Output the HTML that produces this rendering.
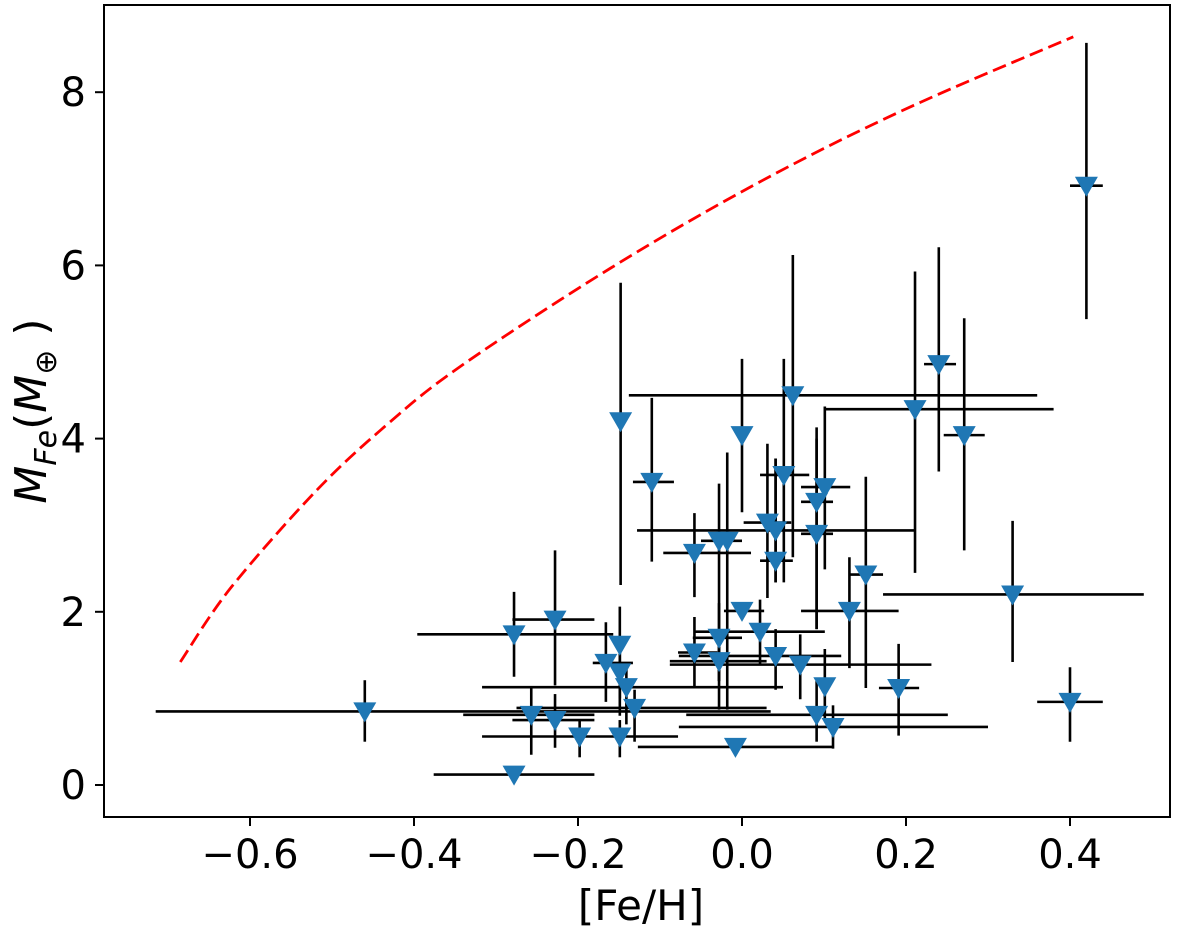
<!DOCTYPE html>
<html><head><meta charset="utf-8"><style>
html,body{margin:0;padding:0;background:#fff;}
svg text{font-family:"DejaVu Sans","Liberation Sans",sans-serif;fill:#000;}
</style></head><body>
<svg id="chart" width="1200" height="930" viewBox="0 0 1200 930" xmlns="http://www.w3.org/2000/svg">
<rect x="0" y="0" width="1200" height="930" fill="#fff"/>
<g id="curve"></g>
<g id="errs"></g>
<g id="marks"></g>
<rect x="104" y="5" width="1066" height="812" fill="none" stroke="#000" stroke-width="2"/>
<g id="axes"></g>
<text x="641" y="920" font-size="42" text-anchor="middle">[Fe/H]</text>
<text transform="translate(46,411) rotate(-90)" font-size="44" text-anchor="middle"><tspan font-style="italic">M</tspan><tspan font-size="30" font-style="italic" dy="10">Fe</tspan><tspan dy="-10">(</tspan><tspan font-style="italic">M</tspan><tspan font-size="30" dy="10">⊕</tspan><tspan dy="-10"> )</tspan></text>
</svg>
<script>
const feh = [0.42,-0.46,-0.148,-0.11,-0.058,-0.278,-0.228,-0.166,-0.149,-0.149,-0.141,-0.131,-0.257,-0.228,-0.198,-0.149,-0.278,-0.058,0.062,0.24,0.211,0.271,0.0,0.051,0.101,0.091,0.031,0.041,0.091,-0.028,-0.018,0.041,0.151,0.33,0.131,0.0,0.022,-0.028,0.041,-0.028,0.071,0.101,0.191,0.091,0.111,-0.008,0.4];
const mfe = [6.92,0.85,4.2,3.5,2.68,1.74,1.91,1.41,1.62,1.3,1.13,0.89,0.81,0.75,0.56,0.56,0.12,1.53,4.5,4.86,4.34,4.04,4.04,3.58,3.44,3.27,3.03,2.94,2.9,2.82,2.82,2.59,2.43,2.2,2.01,2.01,1.77,1.7,1.49,1.43,1.39,1.14,1.12,0.81,0.67,0.44,0.96];
const xLo = [0.4,-0.715,-0.148,-0.133,-0.096,-0.396,-0.28,-0.182,-0.149,-0.149,-0.317,-0.275,-0.34,-0.28,-0.317,-0.149,-0.376,-0.078,-0.138,0.222,0.101,0.246,0.0,0.022,0.072,0.072,0.002,-0.128,0.072,-0.05,-0.018,0.022,0.132,0.172,0.072,-0.022,-0.058,-0.06,-0.077,-0.088,-0.088,0.101,0.167,-0.068,-0.077,-0.127,0.36];
const xHi = [0.44,0.035,-0.148,-0.083,0.011,-0.157,-0.18,-0.133,-0.149,-0.149,0.05,0.03,-0.18,-0.18,-0.078,-0.149,-0.18,-0.03,0.36,0.261,0.38,0.296,0.0,0.082,0.132,0.111,0.06,0.21,0.111,0.0,-0.018,0.062,0.172,0.49,0.191,0.027,0.101,0.0,0.121,0.03,0.231,0.101,0.216,0.251,0.3,0.111,0.44];
const yLo = [5.38,0.5,2.31,2.58,2.17,1.25,1.15,0.96,0.8,1.0,0.7,0.5,0.35,0.43,0.32,0.32,0.12,1.13,2.63,3.62,2.45,2.71,3.15,2.34,2.49,1.8,2.16,2.34,1.8,0.87,0.87,2.34,1.12,1.42,1.35,2.01,1.39,1.2,1.1,1.2,0.99,0.77,0.57,0.5,0.42,0.44,0.5];
const yHi = [8.57,1.21,5.8,4.47,3.14,2.23,2.71,1.88,2.06,1.6,1.4,1.1,1.13,1.05,0.75,0.75,0.12,1.94,6.12,6.21,5.93,5.39,4.92,4.92,4.37,4.13,3.94,3.77,4.0,3.48,3.84,3.77,3.56,3.05,2.63,2.01,2.14,2.1,1.8,1.8,1.74,1.57,1.63,1.2,0.92,0.44,1.36];
const curveX = [-0.685,-0.624,-0.52,-0.432,-0.341,-0.16,0.017,0.196,0.404];
const curveY = [1.42,2.27,3.39,4.17,4.85,5.97,6.94,7.79,8.64];
const xTicks = [-0.6,-0.4,-0.2,0.0,0.2,0.4];
const xTickLabels = ["\u22120.6","\u22120.4","\u22120.2","0.0","0.2","0.4"];
const yTicks = [0,2,4,6,8];
const yTickLabels = ["0","2","4","6","8"];

const NS = "http://www.w3.org/2000/svg";
function sx(v){ return 742 + 820*v; }
function sy(v){ return 785 - 86.6*v; }
function mk(tag, attrs, parent){
  const e = document.createElementNS(NS, tag);
  for (const k in attrs) e.setAttribute(k, attrs[k]);
  parent.appendChild(e);
  return e;
}
const gCurve = document.getElementById('curve');
const gErr = document.getElementById('errs');
const gMk = document.getElementById('marks');
const gAx = document.getElementById('axes');

const P = curveX.map((x,i)=>[sx(x), sy(curveY[i])]);
let d = 'M' + P[0][0].toFixed(1) + ' ' + P[0][1].toFixed(1);
for (let i=0;i<P.length-1;i++){
  const p0 = P[Math.max(0,i-1)], p1 = P[i], p2 = P[i+1], p3 = P[Math.min(P.length-1,i+2)];
  const c1 = [p1[0]+(p2[0]-p0[0])/6, p1[1]+(p2[1]-p0[1])/6];
  const c2 = [p2[0]-(p3[0]-p1[0])/6, p2[1]-(p3[1]-p1[1])/6];
  d += ` C${c1[0].toFixed(1)} ${c1[1].toFixed(1)} ${c2[0].toFixed(1)} ${c2[1].toFixed(1)} ${p2[0].toFixed(1)} ${p2[1].toFixed(1)}`;
}
const cp = mk('path', {d:d, fill:'none', stroke:'#ff0000', 'stroke-width':2.8, 'stroke-dasharray':'14,6'}, gCurve);



feh.forEach((x,i)=>{
  const h = mk('line', {x1:sx(xLo[i]), x2:sx(xHi[i]), y1:sy(mfe[i]), y2:sy(mfe[i]), stroke:'#000', 'stroke-width':2.6}, gErr);
  
  
  const v = mk('line', {x1:sx(x), x2:sx(x), y1:sy(yLo[i]), y2:sy(yHi[i]), stroke:'#000', 'stroke-width':2.6}, gErr);
  
  
  const cx = sx(x), cy = sy(mfe[i]);
  const t = mk('path', {d:`M${cx-11.5} ${cy-9} L${cx+11.5} ${cy-9} L${cx} ${cy+11} Z`, fill:'#1f77b4'}, gMk);
  
  
});

xTicks.forEach((v,i)=>{
  const tk = mk('line', {x1:sx(v), x2:sx(v), y1:817, y2:826, stroke:'#000', 'stroke-width':2}, gAx);
  
  
  const tl = mk('text', {x:sx(v), y:868, 'font-size':40, 'text-anchor':'middle'}, gAx);
  tl.textContent = xTickLabels[i];
  
  
});
yTicks.forEach((v,i)=>{
  const tk = mk('line', {x1:95, x2:104, y1:sy(v), y2:sy(v), stroke:'#000', 'stroke-width':2}, gAx);
  
  
  const tl = mk('text', {x:86, y:sy(v)+14, 'font-size':40, 'text-anchor':'end'}, gAx);
  tl.textContent = yTickLabels[i];
  
  
});
</script>
</body></html>
